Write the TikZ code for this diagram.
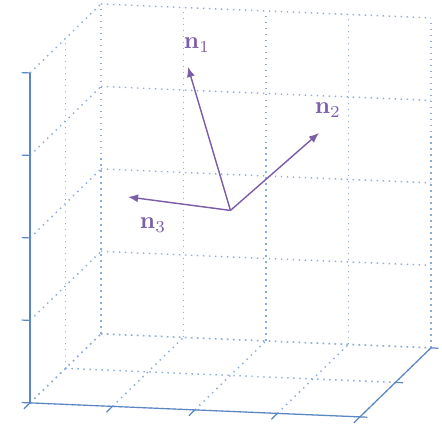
\documentclass[tikz,border=0pt]{standalone}
\usetikzlibrary{arrows.meta}
\definecolor{gridBlue}{HTML}{8DADD9}
\definecolor{axisBlue}{HTML}{5A86C2}
\definecolor{vecPurple}{HTML}{7C5EA8}
\tikzset{
    GRID/.style={draw=gridBlue, line width=0.6pt,
        dash pattern=on 0.6pt off 1.9pt},
    AXIS/.style={draw=axisBlue, line width=0.5pt},
    VECTOR/.style={draw=vecPurple, line width=0.6pt,
        -{Latex[length=4.2pt, width=3.4pt]}},
    LABEL/.style={text=vecPurple, inner sep=0mm, font={\normalsize}},
    BOX/.style={x={(34.375pt,-1.458pt)}, y={(14.79pt,14.375pt)},
        z={(0pt,34.375pt)}}
}
\pgfdeclarelayer{edgelayer}
\pgfdeclarelayer{nodelayer}
\pgfsetlayers{edgelayer,main,nodelayer}

\begin{document}
\begin{tikzpicture}[BOX]
    \useasboundingbox (-12.5pt,-9.58pt) rectangle (171.7pt,167.9pt);
    \begin{pgfonlayer}{edgelayer}
        % back wall
        \foreach \i in {0,...,4} {
            \draw[GRID] (\i,2,0) -- (\i,2,4);
            \draw[GRID] (0,2,\i) -- (4,2,\i);
        }
        % left wall
        \foreach \j in {0,1,2}
            \draw[GRID] (0,\j,0) -- (0,\j,4);
        \foreach \i in {0,...,4}
            \draw[GRID] (0,0,\i) -- (0,2,\i);
        % floor
        \foreach \i in {0,...,4}
            \draw[GRID] (\i,0,0) -- (\i,2,0);
        \foreach \j in {0,1,2}
            \draw[GRID] (0,\j,0) -- (4,\j,0);
    \end{pgfonlayer}
    % axes and ticks
    \coordinate (O) at (0,0,0);
    \coordinate (X) at (4,0,0);
    \coordinate (Y) at (4,2,0);
    \coordinate (Z) at (0,0,4);
    \draw[AXIS] (O) -- (X) -- (Y);
    \draw[AXIS, line width=0.8pt] (O) -- (Z);
    \foreach \i in {0,...,4} {
        \draw[AXIS] (\i,0,0) -- (\i,-0.17,0);
        \draw[AXIS] (0,0,\i) -- (-0.1,0,\i);
    }
    \foreach \j in {0,1,2}
        \draw[AXIS] (4,\j,0) -- (4.09,\j,0);
    \begin{pgfonlayer}{nodelayer}
        \coordinate (0) at (2,1,2);
        \coordinate (1) at (1.485,1,3.718);
        \coordinate (2) at (3.073,1,2.985);
        \coordinate (3) at (0.758,1,2.111);
        \node [LABEL] (4) at (1.594,1,3.989) {$\mathbf{n}_1$};
        \node [LABEL] (5) at (3.182,1,3.268) {$\mathbf{n}_2$};
        \node [LABEL] (6) at (1.061,1,1.784) {$\mathbf{n}_3$};
        \draw[VECTOR] (0) to (1);
        \draw[VECTOR] (0) to (2);
        \draw[VECTOR] (0) to (3);
    \end{pgfonlayer}
\end{tikzpicture}
\end{document}
